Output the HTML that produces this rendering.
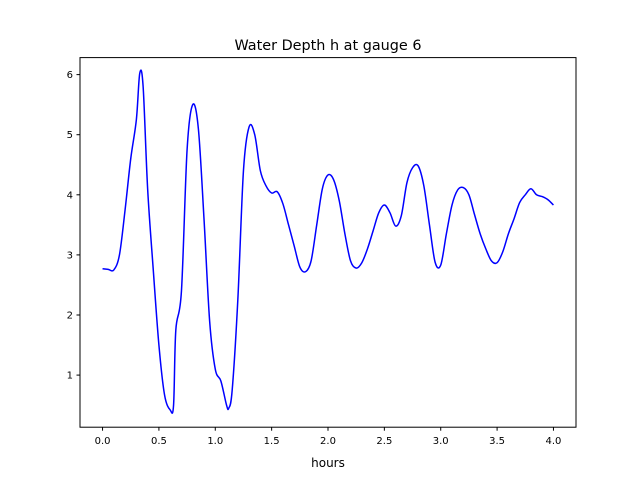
<!DOCTYPE html>
<html><head><meta charset="utf-8"><style>
body{margin:0;background:#fff;}
svg text{font-family:"DejaVu Sans","Liberation Sans",sans-serif;fill:#000;}
</style></head><body>
<svg id="chart" width="640" height="480" viewBox="0 0 640 480" xmlns="http://www.w3.org/2000/svg">
<rect width="640" height="480" fill="#fff"/>
<text x="328" y="50" font-size="14.4" text-anchor="middle">Water Depth h at gauge 6</text>
<g id="plot"></g>
<rect x="80" y="57.6" width="496" height="369.6" fill="none" stroke="#000" stroke-width="1"/>
<text x="328" y="467" font-size="12" text-anchor="middle">hours</text>
</svg>
<script>
const times=[0,0.05,0.1,0.15,0.2,0.25,0.3,0.33,0.36,0.4,0.45,0.5,0.55,0.6,0.63,0.65,0.7,0.75,0.8,0.85,0.9,0.95,1.0,1.05,1.1,1.12,1.15,1.2,1.25,1.3,1.35,1.4,1.45,1.5,1.55,1.6,1.65,1.7,1.75,1.8,1.85,1.9,1.95,2.0,2.05,2.1,2.15,2.2,2.25,2.3,2.35,2.4,2.45,2.5,2.55,2.6,2.65,2.7,2.75,2.8,2.85,2.9,2.95,3.0,3.05,3.1,3.15,3.2,3.25,3.3,3.35,3.4,3.45,3.5,3.55,3.6,3.65,3.7,3.75,3.8,3.85,3.9,3.95,4.0];
const depth=[2.77,2.76,2.75,3.0,3.75,4.6,5.25,6.02,5.8,4.1,2.75,1.5,0.67,0.42,0.5,1.75,2.4,4.75,5.5,5.1,3.6,1.9,1.1,0.9,0.5,0.45,0.75,2.25,4.4,5.13,5.0,4.4,4.15,4.03,4.05,3.85,3.5,3.15,2.8,2.72,2.9,3.5,4.1,4.33,4.25,3.9,3.35,2.9,2.78,2.87,3.1,3.4,3.7,3.83,3.7,3.48,3.65,4.2,4.45,4.48,4.15,3.5,2.88,2.83,3.35,3.83,4.08,4.12,4.0,3.67,3.35,3.1,2.9,2.87,3.05,3.35,3.6,3.87,4.0,4.1,4.0,3.97,3.92,3.83];
const xTicks=[0,0.5,1,1.5,2,2.5,3,3.5,4];
const yTicks=[1,2,3,4,5,6];
const L=80,R=576,T=57.6,B=427.2,x0=-0.2,x1=4.2,y0=0.133,y1=6.283;
const sx=v=>L+(v-x0)/(x1-x0)*(R-L);
const sy=v=>B-(v-y0)/(y1-y0)*(B-T);
const NS="http://www.w3.org/2000/svg";
const g=document.getElementById('plot');
function mk(t,a){const e=document.createElementNS(NS,t);for(const k in a)e.setAttribute(k,a[k]);g.appendChild(e);return e;}
xTicks.forEach(v=>{
  const l=mk('line',{x1:sx(v),x2:sx(v),y1:B,y2:B+3.5,stroke:'#000'});
  
  
  const t=mk('text',{x:sx(v),y:B+17,'font-size':10,'text-anchor':'middle'});
  t.textContent=v.toFixed(1);
  
  
});
yTicks.forEach(v=>{
  const l=mk('line',{x1:L-3.5,x2:L,y1:sy(v),y2:sy(v),stroke:'#000'});
  
  
  const t=mk('text',{x:L-7,y:sy(v)+3.5,'font-size':10,'text-anchor':'end'});
  t.textContent=v;
  
  
});
const P=times.map((t,i)=>[sx(t),sy(depth[i])]);
let d='M'+P[0][0]+','+P[0][1];
for(let i=0;i<P.length-1;i++){
  const p0=P[Math.max(0,i-1)],p1=P[i],p2=P[i+1],p3=P[Math.min(P.length-1,i+2)];
  const c1=[p1[0]+(p2[0]-p0[0])/6,p1[1]+(p2[1]-p0[1])/6];
  const c2=[p2[0]-(p3[0]-p1[0])/6,p2[1]-(p3[1]-p1[1])/6];
  d+=' C'+c1+' '+c2+' '+p2;
}
const line=mk('path',{d:d,fill:'none',stroke:'#0000ff','stroke-width':1.5});


</script>
</body></html>
